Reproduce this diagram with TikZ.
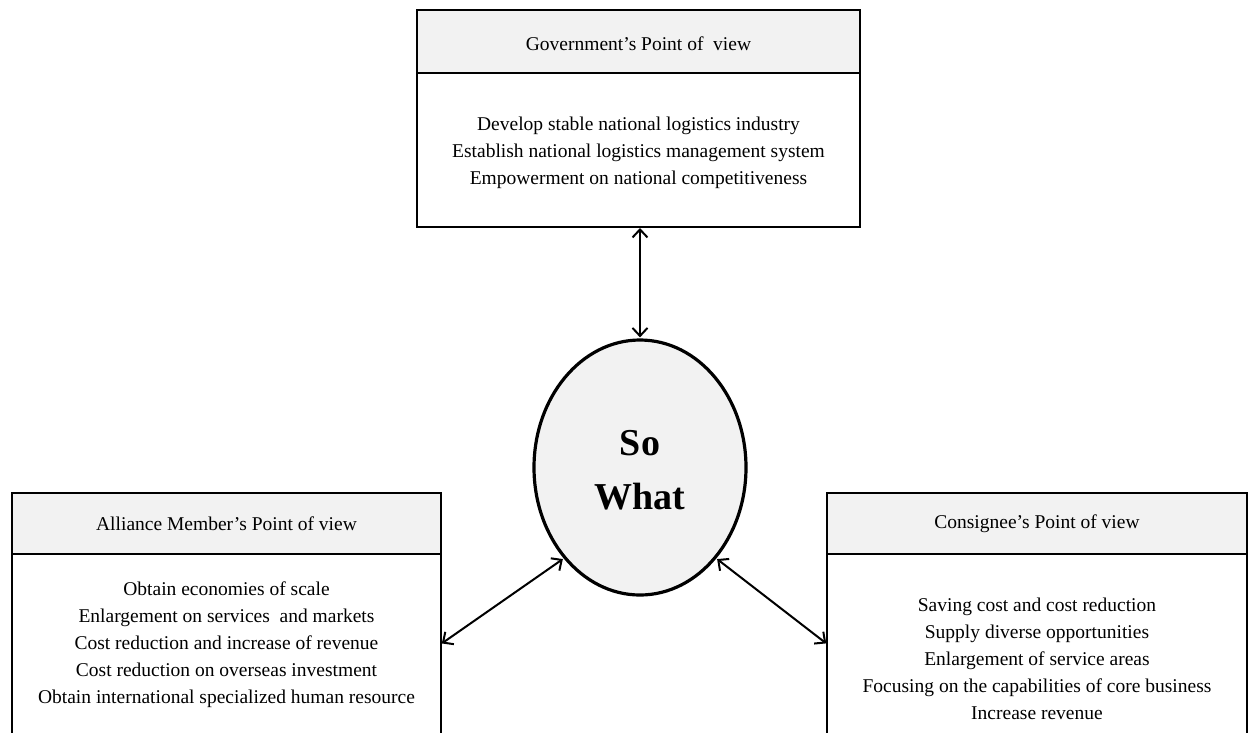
\documentclass[tikz,border=0pt]{standalone}
\usepackage{fontspec}
\setmainfont{Liberation Serif}
\usetikzlibrary{arrows.meta,shapes.geometric}

\tikzset{
  panel/.style={draw=black, line width=2.2pt, rectangle, inner sep=0pt, outer sep=0pt},
  head/.style={panel, fill=black!5},
  bodytext/.style={align=center, font=\fontsize{19.5}{27}\selectfont, inner sep=0pt},
  headtext/.style={font=\fontsize{19.5}{22}\selectfont, inner sep=0pt},
  biarrow/.style={line width=2pt, {Straight Barb[length=8pt,width=15pt]}-{Straight Barb[length=8pt,width=15pt]}, shorten <=1pt, shorten >=1pt}
}

\begin{document}
\begin{tikzpicture}[x=1pt,y=-1pt]
  \useasboundingbox (0,0) rectangle (1248,732);
  \clip (0,0) rectangle (1248,732);

  % government panel
  \node[head, minimum width=443pt, minimum height=63pt] (ghead) at (638.5,41.5) {};
  \node[panel, minimum width=443pt, minimum height=154pt] (gbody) at (638.5,150) {};
  \node[headtext] (gtitle) at (638.5,44) {Government's Point of \ view};
  \node[bodytext] (gtext) at (638.5,153) {Develop stable national logistics industry\\Establish national logistics management system\\Empowerment on national competitiveness};

  % alliance member panel (runs off the lower edge)
  \node[head, minimum width=429pt, minimum height=61pt] (ahead) at (226.5,523.5) {};
  \node[panel, minimum width=429pt, minimum height=180pt] (abody) at (226.5,644) {};
  \node[headtext] (atitle) at (226.5,524) {Alliance Member's Point of view};
  \node[bodytext] (atext) at (226.5,645) {Obtain economies of scale\\Enlargement on services \ and markets\\Cost reduction and increase of revenue\\Cost reduction on overseas investment\\Obtain international specialized human resource};

  % consignee panel (runs off the lower edge)
  \node[head, minimum width=420pt, minimum height=61pt] (chead) at (1037,523.5) {};
  \node[panel, minimum width=420pt, minimum height=180pt] (cbody) at (1037,644) {};
  \node[headtext] (ctitle) at (1037,524) {Consignee's Point of view};
  \node[bodytext] (ctext) at (1037,659) {Saving cost and cost reduction\\Supply diverse opportunities\\Enlargement of service areas\\Focusing on the capabilities of core business\\Increase revenue};

  % central question
  \node[ellipse, draw=black, line width=3.2pt, fill=black!5, minimum width=212pt, minimum height=255pt, inner sep=0pt] (so) at (640,467.5) {};
  \node[font=\fontsize{38}{54}\selectfont\bfseries, align=center, inner sep=0pt] (sotext) at (640,470) {So\\What};

  % links
  \draw[biarrow] (gbody.south -| so.north) -- (so.north);
  \draw[biarrow] (abody.east) -- (so.-130.6);
  \draw[biarrow] (so.-50.5) -- (cbody.west);
\end{tikzpicture}
\end{document}
